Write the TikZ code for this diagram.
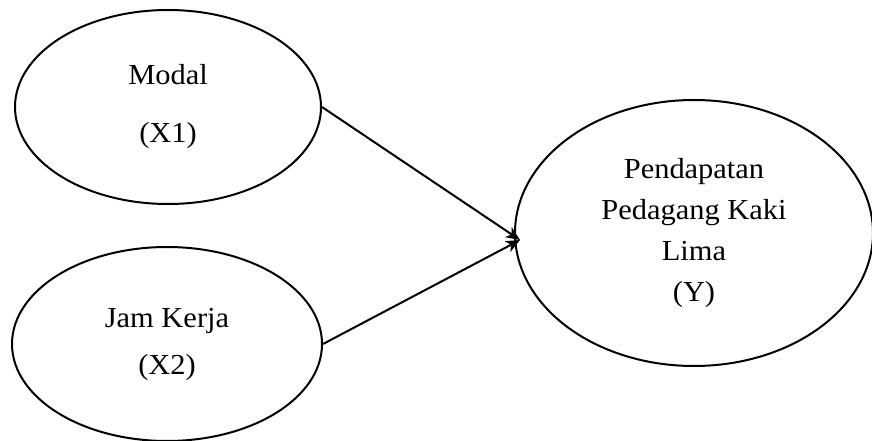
\documentclass[tikz,border=0pt]{standalone}
\usepackage{fontspec}
\setmainfont[FakeStretch=1.05]{Liberation Serif}
\usetikzlibrary{shapes.geometric,arrows.meta}

\begin{document}
\begin{tikzpicture}[line width=2bp,>={Stealth[length=14bp,width=12bp,inset=4bp]},
  var/.style={draw,ellipse,inner sep=0pt,align=center,font=\fontsize{29bp}{41bp}\selectfont}]
		%%
  \useasboundingbox (0bp,0bp) rectangle (872bp,441bp);
  \node (Modal) at (168bp,334bp) [var,minimum width=306bp,minimum height=194bp] {Modal\\[17bp](X1)};
  \node (JamKerja) at (167bp,97bp) [var,minimum width=310bp,minimum height=194bp] {Jam Kerja\\[6bp](X2)};
  \node (Pendapatan) at (694bp,208bp) [var,minimum width=358bp,minimum height=266bp] {Pendapatan\\Pedagang Kaki\\Lima\\(Y)};
  \coordinate (join) at (520bp,201bp);
  \draw [->] (Modal.east) -- (join);
  \draw [->] (JamKerja.east) -- (join);
		%
\end{tikzpicture}
\end{document}
